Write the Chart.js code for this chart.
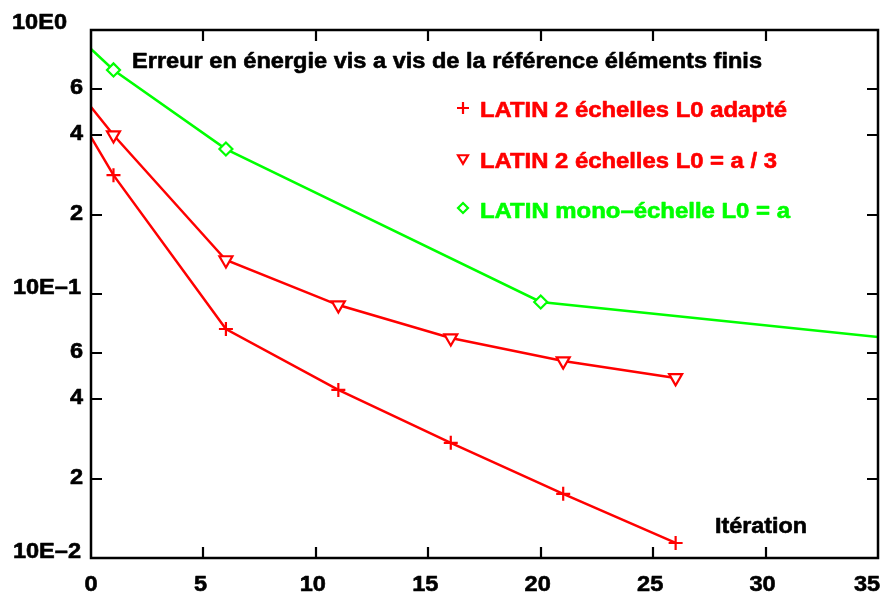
<!DOCTYPE html>
<html>
<head>
<meta charset="utf-8">
<script src="https://cdn.jsdelivr.net/npm/chart.js@4/dist/chart.umd.min.js"></script>
<style>
html,body{margin:0;padding:0;background:#fff;}
#wrap{width:889px;height:598px;position:relative;}
canvas{display:block;}
</style>
</head>
<body>
<div id="wrap"><canvas id="c" width="889" height="598"></canvas></div>
<script>
// ---- data ----
const xAdapte   = [0, 1, 6, 11, 16, 21, 26];
const errAdapte = [0.393, 0.282, 0.0737, 0.0433, 0.0273, 0.0175, 0.0114];

const xTiers    = [0, 1, 6, 11, 16, 21, 26];
const errTiers  = [0.511, 0.400, 0.1345, 0.0908, 0.0681, 0.0557, 0.0481];

const xMono     = [0, 1, 6, 20, 35];
const errMono   = [0.847, 0.706, 0.354, 0.0933, 0.0687];

const seriesNames = [
  "LATIN 2 échelles L0 adapté",
  "LATIN 2 échelles L0 = a / 3",
  "LATIN mono\u2013échelle L0 = a"
];
const titleText = "Erreur en énergie vis a vis de la référence éléments finis";
const xAxisTitle = "Itération";

const xTickValues = [0, 5, 10, 15, 20, 25, 30, 35];
const xTickLabels = ["0", "5", "10", "15", "20", "25", "30", "35"];
const yTickValues = [1, 0.6, 0.4, 0.2, 0.1, 0.06, 0.04, 0.02, 0.01];
const yTickLabels = ["10E0", "6", "4", "2", "10E\u20131", "6", "4", "2", "10E\u20132"];

// ---- build ----
const RED = "#ff0000", GREEN = "#00ff00";
function pts(xs, ys) { return xs.map((x, i) => ({x: x, y: ys[i]})); }
function markRadius(r) {
  return ctx => {
    const p = ctx.raw; if (!p) return 0;
    return (p.x === 0 || p.x === 35) ? 0 : r;
  };
}
const FONT = '"Liberation Sans", Arial, Helvetica, sans-serif';

function drawText(ctx, text, x, y, targetW, align, scaleX) {
  const w = ctx.measureText(text).width;
  const s = targetW ? targetW / w : (scaleX || 1);
  ctx.save();
  ctx.translate(x, y);
  ctx.scale(s, 1);
  ctx.textAlign = align || 'left';
  ctx.strokeStyle = ctx.fillStyle;
  ctx.lineWidth = 0.6;
  ctx.lineJoin = 'round';
  ctx.fillText(text, 0, 0);
  ctx.strokeText(text, 0, 0);
  ctx.restore();
}

function drawMarker(ctx, kind, x, y, r, color) {
  ctx.save();
  ctx.strokeStyle = color; ctx.lineWidth = 2.2;
  ctx.beginPath();
  if (kind === 'plus') {
    ctx.moveTo(x - r, y); ctx.lineTo(x + r, y);
    ctx.moveTo(x, y - r); ctx.lineTo(x, y + r);
  } else if (kind === 'tri') {
    ctx.moveTo(x - r, y - r * 0.75); ctx.lineTo(x + r, y - r * 0.75); ctx.lineTo(x, y + r * 0.95); ctx.closePath();
  } else {
    ctx.moveTo(x, y - r); ctx.lineTo(x + r, y); ctx.lineTo(x, y + r); ctx.lineTo(x - r, y); ctx.closePath();
  }
  ctx.stroke();
  ctx.restore();
}

const decorPlugin = {
  id: 'decor',
  afterDraw(chart) {
    const ctx = chart.ctx;
    const xs = chart.scales.x, ys = chart.scales.y;
    const a = chart.chartArea;
    ctx.save();
    // frame
    ctx.strokeStyle = '#000'; ctx.lineWidth = 2.5;
    ctx.strokeRect(a.left, a.top, a.right - a.left, a.bottom - a.top);
    // inward ticks
    ctx.lineWidth = 2.2;
    ctx.beginPath();
    const TL = 11;
    xTickValues.forEach(v => {
      const px = Math.round(xs.getPixelForValue(v));
      if (px <= a.left + 1 || px >= a.right - 1) return;
      ctx.moveTo(px, a.bottom); ctx.lineTo(px, a.bottom - TL);
      ctx.moveTo(px, a.top); ctx.lineTo(px, a.top + TL);
    });
    yTickValues.forEach(v => {
      const py = Math.round(ys.getPixelForValue(v));
      if (py <= a.top + 1 || py >= a.bottom - 1) return;
      ctx.moveTo(a.left, py); ctx.lineTo(a.left + TL, py);
      ctx.moveTo(a.right, py); ctx.lineTo(a.right - TL, py);
    });
    ctx.stroke();

    // tick labels
    ctx.fillStyle = '#000';
    ctx.font = 'bold 22px ' + FONT;
    ctx.textBaseline = 'alphabetic';
    const SX = 1.07;
    yTickValues.forEach((v, i) => {
      const py = ys.getPixelForValue(v);
      const lab = yTickLabels[i];
      if (lab.startsWith('10E')) {
        const right = (i === 0) ? 67 : 81;
        drawText(ctx, lab, right, py + (i === 0 ? -1 : 0), null, 'right', SX);
      } else {
        drawText(ctx, lab, 83, py + 5, null, 'right', SX);
      }
    });
    xTickValues.forEach((v, i) => {
      let px = xs.getPixelForValue(v);
      if (i === xTickValues.length - 1) px -= 11; else if (i > 0) px -= 3;
      drawText(ctx, xTickLabels[i], px, 591, null, 'center', SX);
    });

    // title and axis title
    drawText(ctx, titleText, 132, 68, 630, 'left');
    drawText(ctx, xAxisTitle, 715, 533, 92, 'left');

    // legend
    const legendY = [117, 168, 218];
    const legendW = [307, 297, 310];
    const legendCol = [RED, RED, GREEN];
    const legendKind = ['plus', 'tri', 'diam'];
    const markY = [108, 159, 208];
    seriesNames.forEach((n, i) => {
      ctx.fillStyle = legendCol[i];
      drawText(ctx, n, 480, legendY[i], legendW[i], 'left');
      drawMarker(ctx, legendKind[i], 463, markY[i], legendKind[i] === 'plus' ? 6 : 5, legendCol[i]);
    });
    ctx.restore();
  }
};

new Chart(document.getElementById('c'), {
  type: 'scatter',
  data: {
    datasets: [
      {
        label: seriesNames[0], data: pts(xAdapte, errAdapte), showLine: true,
        borderColor: RED, backgroundColor: '#fff', borderWidth: 2.5,
        pointStyle: 'cross', pointRadius: markRadius(7), pointBorderWidth: 2.2, pointBorderColor: RED
      },
      {
        label: seriesNames[1], data: pts(xTiers, errTiers), showLine: true,
        borderColor: RED, backgroundColor: '#fff', borderWidth: 2.5,
        pointStyle: 'triangle', pointRotation: 180, pointRadius: markRadius(7.5), pointBorderWidth: 2.2,
        pointBorderColor: RED, pointBackgroundColor: '#fff'
      },
      {
        label: seriesNames[2], data: pts(xMono, errMono), showLine: true,
        borderColor: GREEN, backgroundColor: '#fff', borderWidth: 2.5,
        pointStyle: 'rectRot', pointRadius: markRadius(6.5), pointBorderWidth: 2.2,
        pointBorderColor: GREEN, pointBackgroundColor: '#fff'
      }
    ]
  },
  options: {
    responsive: false,
    animation: false,
    devicePixelRatio: 1,
    layout: { padding: { left: 91, top: 30, right: 11, bottom: 40 } },
    plugins: { legend: { display: false }, tooltip: { enabled: false } },
    elements: { line: { tension: 0 } },
    scales: {
      x: { type: 'linear', min: 0, max: 35, display: false },
      y: { type: 'logarithmic', min: 0.01, max: 1, display: false }
    }
  },
  plugins: [decorPlugin]
});
</script>
</body>
</html>
